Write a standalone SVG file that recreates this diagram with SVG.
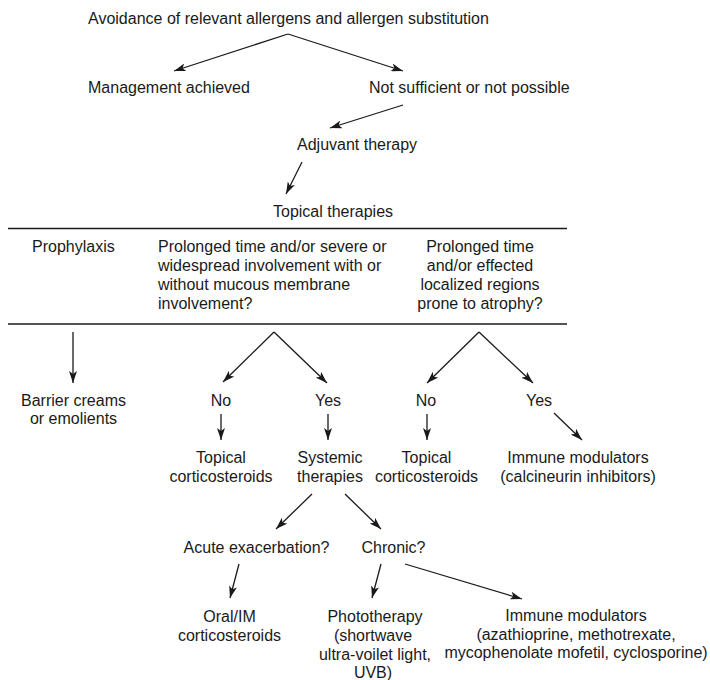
<svg xmlns="http://www.w3.org/2000/svg" width="710" height="680" viewBox="0 0 710 680">
<style>
text{font-family:"Liberation Sans",Arial,Helvetica,sans-serif;font-size:16px;fill:#1a1a1a}
.c{text-anchor:middle}
.e{stroke:#1a1a1a;stroke-width:1.3;fill:none;marker-end:url(#ah)}
.rule{stroke:#1a1a1a;stroke-width:1.6}
</style>
<defs>
<marker id="ah" viewBox="0 0 12 8" refX="12" refY="4" markerWidth="12" markerHeight="8" markerUnits="userSpaceOnUse" orient="auto">
<path d="M0,0 L12,4 L0,8 L3,4 Z" fill="#1a1a1a"/>
</marker>
</defs>
<rect width="710" height="680" fill="#fff"/>
<g id="table-rules">
<line class="rule" x1="8" y1="228.5" x2="567" y2="228.5"/>
<line class="rule" x1="8" y1="324" x2="567" y2="324"/>
</g>
<g id="connectors">
<line class="e" x1="288" y1="34" x2="174" y2="71"/>
<line class="e" x1="288" y1="34" x2="403" y2="71"/>
<line class="e" x1="403" y1="105" x2="330" y2="128"/>
<line class="e" x1="302" y1="162" x2="286" y2="194"/>
<line class="e" x1="73" y1="332" x2="73" y2="383"/>
<line class="e" x1="274" y1="332" x2="223" y2="382"/>
<line class="e" x1="274" y1="332" x2="327" y2="383"/>
<line class="e" x1="479" y1="332" x2="427" y2="383"/>
<line class="e" x1="479" y1="332" x2="533" y2="383"/>
<line class="e" x1="221" y1="414" x2="221" y2="440"/>
<line class="e" x1="328" y1="414" x2="328" y2="440"/>
<line class="e" x1="427" y1="414" x2="427" y2="440"/>
<line class="e" x1="554" y1="413" x2="582" y2="440"/>
<line class="e" x1="312" y1="494" x2="276" y2="529"/>
<line class="e" x1="345" y1="494" x2="381" y2="529"/>
<line class="e" x1="239" y1="564" x2="230" y2="598"/>
<line class="e" x1="381" y1="564" x2="372" y2="598"/>
<line class="e" x1="405" y1="564" x2="522" y2="599"/>
</g>
<g id="avoidance"><text x="88" y="24">Avoidance of relevant allergens and allergen substitution</text></g>
<g id="management"><text x="88" y="93">Management achieved</text></g>
<g id="not-sufficient"><text x="369" y="93">Not sufficient or not possible</text></g>
<g id="adjuvant"><text x="297" y="150">Adjuvant therapy</text></g>
<g id="topical-therapies"><text x="273" y="217">Topical therapies</text></g>
<g id="prophylaxis"><text x="32" y="252">Prophylaxis</text></g>
<g id="prolonged-severe"><text x="158" y="252">Prolonged time and/or severe or</text><text x="158" y="271">widespread involvement with or</text><text x="158" y="290">without mucous membrane</text><text x="158" y="309">involvement?</text></g>
<g id="prolonged-localized"><text class="c" x="480" y="252">Prolonged time</text><text class="c" x="480" y="271">and/or effected</text><text class="c" x="480" y="290">localized regions</text><text class="c" x="480" y="309">prone to atrophy?</text></g>
<g id="barrier"><text class="c" x="73.5" y="406">Barrier creams</text><text class="c" x="73.5" y="424">or emolients</text></g>
<g id="no1"><text class="c" x="221" y="406">No</text></g>
<g id="yes1"><text class="c" x="328" y="406">Yes</text></g>
<g id="no2"><text class="c" x="426" y="406">No</text></g>
<g id="yes2"><text class="c" x="539" y="406">Yes</text></g>
<g id="topical-cs1"><text class="c" x="221" y="463">Topical</text><text class="c" x="221" y="482">corticosteroids</text></g>
<g id="systemic"><text class="c" x="330" y="463">Systemic</text><text class="c" x="330" y="482">therapies</text></g>
<g id="topical-cs2"><text class="c" x="426.5" y="463">Topical</text><text class="c" x="426.5" y="482">corticosteroids</text></g>
<g id="immune1"><text class="c" x="578" y="463">Immune modulators</text><text class="c" x="578" y="482">(calcineurin inhibitors)</text></g>
<g id="acute"><text class="c" x="256.5" y="553">Acute exacerbation?</text></g>
<g id="chronic"><text class="c" x="393.5" y="553">Chronic?</text></g>
<g id="oral"><text class="c" x="229.5" y="622">Oral/IM</text><text class="c" x="229.5" y="641">corticosteroids</text></g>
<g id="phototherapy"><text class="c" x="375" y="622">Phototherapy</text><text class="c" x="373" y="641">(shortwave</text><text class="c" x="375" y="660">ultra-voilet light,</text><text class="c" x="373" y="678">UVB)</text></g>
<g id="immune2"><text class="c" x="576" y="621">Immune modulators</text><text class="c" x="576" y="640">(azathioprine, methotrexate,</text><text class="c" x="576" y="658">mycophenolate mofetil, cyclosporine)</text></g>
</svg>
